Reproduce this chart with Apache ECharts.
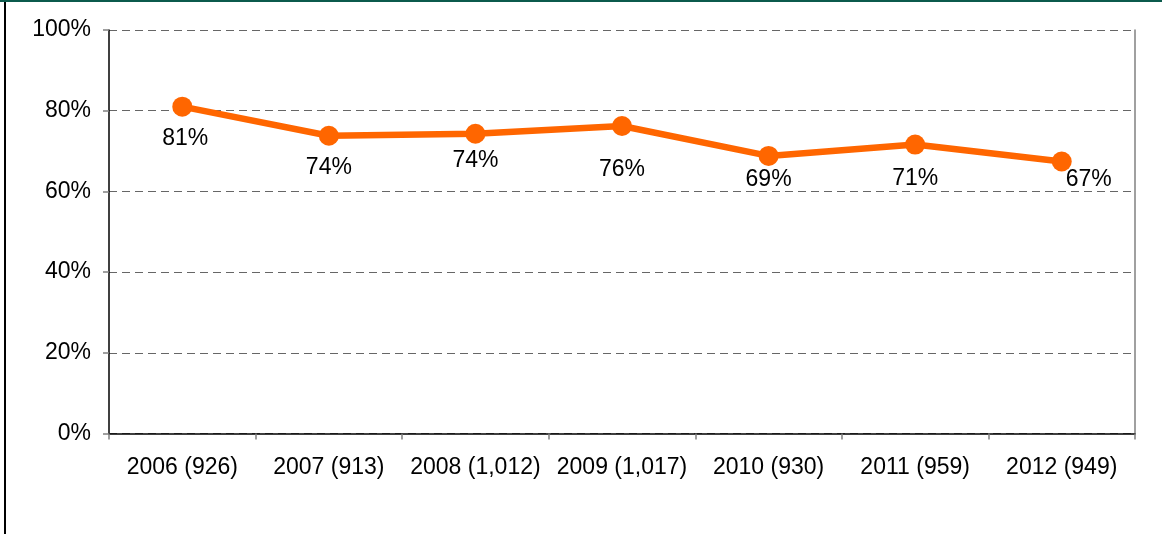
<!DOCTYPE html>
<html>
<head>
<meta charset="utf-8">
<script src="https://cdn.jsdelivr.net/npm/echarts@6/dist/echarts.min.js"></script>
<style>
    html, body { margin: 0; padding: 0; background: #fff; }
    #frame { width: 1162px; height: 532px; border-top: 2px solid #0b5a4c; }
    #main { width: 1156px; height: 532px; margin-left: 4px; border-left: 2px solid #000; }
</style>
</head>
<body>
<div id="frame"><div id="main"></div></div>
<script>
// 数据
var categories = ['2006 (926)', '2007 (913)', '2008 (1,012)', '2009 (1,017)', '2010 (930)', '2011 (959)', '2012 (949)'];
var shares = [81.0, 73.8, 74.3, 76.2, 68.8, 71.6, 67.4];
var shareLabels = ['81%', '74%', '74%', '76%', '69%', '71%', '67%'];
var yTicks = [0, 20, 40, 60, 80, 100];

// 数据标签的微调（跟原图位置对齐）
var labelNudge = [[3, 5], [0, 5], [0, 0], [0, 17], [0, -3], [0, 8], [27, -8]];

var chart = echarts.init(document.getElementById('main'));

var seriesData = shares.map(function (v, i) {
    return {
        value: v,
        label: { formatter: shareLabels[i], offset: labelNudge[i] }
    };
});

var option = {
    animation: false,
    textStyle: { fontFamily: 'Liberation Sans, Arial, sans-serif' },
    grid: { left: 103, top: 28, right: 27, bottom: 100.5 },
    xAxis: {
        type: 'category',
        data: categories,
        boundaryGap: true,
        axisLine: { lineStyle: { color: '#000', width: 1.5 } },
        axisTick: { show: true, length: 6, lineStyle: { color: '#808080', width: 1.5 } },
        axisLabel: { color: '#000', fontSize: 23, margin: 23, interval: 0 },
        splitLine: { show: false }
    },
    yAxis: [{
        type: 'value',
        min: 0,
        max: 100,
        interval: 20,
        axisLine: { show: true, lineStyle: { color: '#000', width: 1.5 } },
        axisTick: { show: true, length: 6, lineStyle: { color: '#808080', width: 1.5 } },
        axisLabel: {
            color: '#000', fontSize: 23, margin: 18,
            formatter: function (v) { return yTicks.indexOf(v) >= 0 ? v + '%' : ''; }
        },
        splitLine: { show: true, lineStyle: { color: '#666', width: 1, type: [8, 5] } }
    }, {
        // 右侧边框
        type: 'value',
        position: 'right',
        min: 0,
        max: 100,
        interval: 20,
        axisLine: { show: true, lineStyle: { color: '#808080', width: 1.5 } },
        axisTick: { show: false },
        axisLabel: { show: false },
        splitLine: { show: false }
    }],
    series: [{
        type: 'line',
        data: seriesData,
        symbol: 'circle',
        symbolSize: 20,
        lineStyle: { color: '#ff6600', width: 6.5 },
        itemStyle: { color: '#ff6600' },
        label: {
            show: true,
            position: 'bottom',
            color: '#000',
            fontSize: 23
        }
    }]
};

chart.setOption(option);
</script>
</body>
</html>
